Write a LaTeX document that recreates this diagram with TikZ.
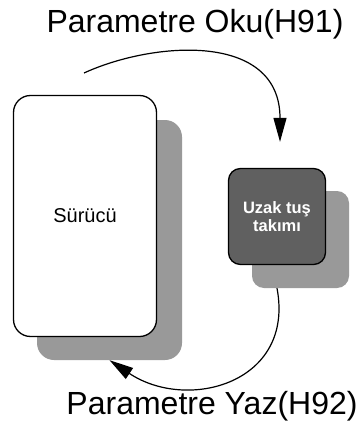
\documentclass[tikz,border=0pt]{standalone}
\usepackage{fontspec}
\setmainfont{Liberation Sans}
\usepackage{tikz}
\usetikzlibrary{arrows.meta,positioning,calc}
\definecolor{shadowgray}{RGB}{153,153,153}
\definecolor{boxgray}{RGB}{96,96,96}

\begin{document}
\begin{tikzpicture}[x=1pt,y=-1pt,>={Triangle[length=24pt,width=13pt]},
  unit/.style={draw=black,line width=1.3pt,rounded corners=17pt,inner sep=0pt},
  shade/.style={fill=shadowgray,rounded corners=17pt,inner sep=0pt},
  flow/.style={->,line width=1.2pt},
  caption/.style={font=\fontsize{32}{38}\selectfont}]
  \useasboundingbox (0,0) rectangle (363,423);
  \node[shade,minimum width=145pt,minimum height=240pt] (surucushadow) at (109.5,240) {};
  \node[unit,fill=white,minimum width=143pt,minimum height=241pt,font=\fontsize{20}{24}\selectfont] (surucu) at (85,216) {Sürücü};
  \node[shade,rounded corners=12pt,minimum width=97pt,minimum height=97pt] (uzakshadow) at (300.5,239.5) {};
  \node[unit,rounded corners=12pt,fill=boxgray,text=white,align=center,minimum width=97pt,minimum height=96pt,
    font=\bfseries\fontsize{16.5}{17.5}\selectfont] (uzak) at (277,216.5) {Uzak tuş\\takımı};
  \node[caption] (okulabel) at (195,24) {Parametre Oku(H91)};
  \node[caption] (yazlabel) at (212,406) {Parametre Yaz(H92)};
  \coordinate (okustart) at (84,73);
  \coordinate (okutip) at ([shift={(3,-26)}]uzak.north);
  \draw[flow] (okustart) .. controls +(70,-32) and +(0,-110) .. (okutip);
  \draw[flow] (uzak.south |- uzakshadow.south) .. controls +(18,95) and +(78,52) .. (surucushadow.south);
\end{tikzpicture}
\end{document}
